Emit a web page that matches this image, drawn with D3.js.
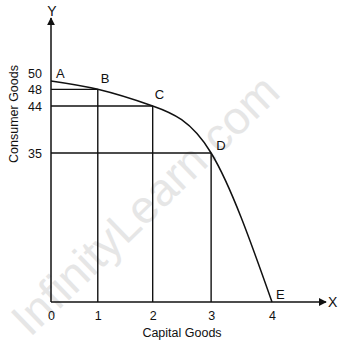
<!DOCTYPE html>
<html>
<head>
<meta charset="utf-8">
<script src="https://cdn.jsdelivr.net/npm/d3@7"></script>
<style>
  body { margin: 0; background: #fff; }
  text { font-family: "Liberation Sans", Arial, sans-serif; fill: #111; }
</style>
</head>
<body>
<div class="chart"></div>
<script>
// data
var pointNames = ["A", "B", "C", "D", "E"];
var capitalGoods = [0, 1, 2, 3, 4];
var consumerGoods = [50, 48, 44, 35, 0];
var xTicks = [0, 1, 2, 3, 4];
var yTicks = [35, 44, 48, 50];

var svgWidth = 344;
var svgHeight = 347;

var svg = d3.select(".chart")
    .append("svg")
    .attr("width", svgWidth)
    .attr("height", svgHeight);

// the drawing is hand made, so neither axis is evenly spaced
var xScale = d3.scalePow()
    .exponent(1.12)
    .domain([0, 4])
    .range([51, 272]);

var yScale = d3.scaleLinear()
    .domain([0, 35, 44, 50])
    .range([302, 153, 106, 81]);

var pts = pointNames.map(function(n, i) {
    return { name: n, x: capitalGoods[i], y: consumerGoods[i] };
});

// watermark
svg.append("text")
    .attr("transform", "translate(30,338) rotate(-44)")
    .attr("font-size", 46)
    .style("fill", "#e6e6e6")
    .text("InfinityLearn.com");

var ink = "#111";

// guide lines from each point to the axes
var inner = pts.filter(function(d) { return d.x > 0 && d.y > 0; });
svg.selectAll(".hline")
    .data(pts.filter(function(d) { return d.y > 0 && d.y < 50; }))
    .enter().append("line")
    .attr("x1", xScale(0))
    .attr("x2", function(d) { return xScale(d.x); })
    .attr("y1", function(d) { return yScale(d.y); })
    .attr("y2", function(d) { return yScale(d.y); })
    .attr("stroke", ink)
    .attr("stroke-width", 1.4);

svg.selectAll(".vline")
    .data(inner)
    .enter().append("line")
    .attr("x1", function(d) { return xScale(d.x); })
    .attr("x2", function(d) { return xScale(d.x); })
    .attr("y1", function(d) { return yScale(d.y); })
    .attr("y2", yScale(0))
    .attr("stroke", ink)
    .attr("stroke-width", 1.4);

// PPC curve
var line = d3.line()
    .x(function(d) { return xScale(d.x); })
    .y(function(d) { return yScale(d.y); })
    .curve(d3.curveNatural);

svg.append("path")
    .datum(pts)
    .attr("d", line)
    .attr("fill", "none")
    .attr("stroke", ink)
    .attr("stroke-width", 1.5);

// axes with arrows
svg.append("defs").append("marker")
    .attr("id", "arrow")
    .attr("viewBox", "0 0 10 10")
    .attr("refX", 9)
    .attr("refY", 5)
    .attr("markerWidth", 8)
    .attr("markerHeight", 8)
    .attr("markerUnits", "userSpaceOnUse")
    .attr("orient", "auto")
    .append("path")
    .attr("d", "M0,0L10,5L0,10Z")
    .attr("fill", ink);

svg.append("line")
    .attr("x1", xScale(0)).attr("x2", xScale(0))
    .attr("y1", yScale(0)).attr("y2", 18)
    .attr("stroke", ink).attr("stroke-width", 1.5)
    .attr("marker-end", "url(#arrow)");

svg.append("line")
    .attr("x1", xScale(0)).attr("x2", 326)
    .attr("y1", yScale(0)).attr("y2", yScale(0))
    .attr("stroke", ink).attr("stroke-width", 1.5)
    .attr("marker-end", "url(#arrow)");

svg.append("text")
    .attr("x", xScale(0) + 1).attr("y", 16)
    .attr("text-anchor", "middle")
    .attr("font-size", 14)
    .text("Y");

svg.append("text")
    .attr("x", 328).attr("y", yScale(0) + 5)
    .attr("font-size", 14)
    .text("X");

// tick labels
var xAxis = d3.axisBottom(xScale)
    .tickValues(xTicks)
    .tickSize(0)
    .tickPadding(9)
    .tickFormat(d3.format("d"));

svg.append("g")
    .attr("transform", "translate(0," + yScale(0) + ")")
    .call(xAxis)
    .call(function(g) { g.select(".domain").remove(); })
    .selectAll("text")
    .attr("font-size", 12.5)
    .style("font-family", "Liberation Sans, Arial, sans-serif")
    .style("fill", ink);

var yAxis = d3.axisLeft(yScale)
    .tickValues(yTicks)
    .tickSize(0)
    .tickPadding(9)
    .tickFormat(d3.format("d"));

svg.append("g")
    .attr("transform", "translate(" + xScale(0) + ",0)")
    .call(yAxis)
    .call(function(g) { g.select(".domain").remove(); })
    .selectAll("text")
    .attr("font-size", 12.5)
    .style("font-family", "Liberation Sans, Arial, sans-serif")
    .style("fill", ink)
    // the top label sits a little above its line, as in the drawing
    .attr("dy", function(d) { return d === 50 ? "-0.3em" : "0.32em"; });

// point names
var nameOffset = { A: [5, -3], B: [3, -6], C: [2, -7], D: [5, -3], E: [4, -3] };
svg.selectAll(".pname")
    .data(pts)
    .enter().append("text")
    .attr("x", function(d) { return xScale(d.x) + nameOffset[d.name][0]; })
    .attr("y", function(d) { return yScale(d.y) + nameOffset[d.name][1]; })
    .attr("font-size", 13)
    .text(function(d) { return d.name; });

// axis titles
svg.append("text")
    .attr("x", 182).attr("y", 337)
    .attr("text-anchor", "middle")
    .attr("font-size", 12.5)
    .text("Capital Goods");

svg.append("text")
    .attr("transform", "translate(18,114) rotate(-90)")
    .attr("text-anchor", "middle")
    .attr("font-size", 12.5)
    .text("Consumer Goods");
</script>
</body>
</html>
